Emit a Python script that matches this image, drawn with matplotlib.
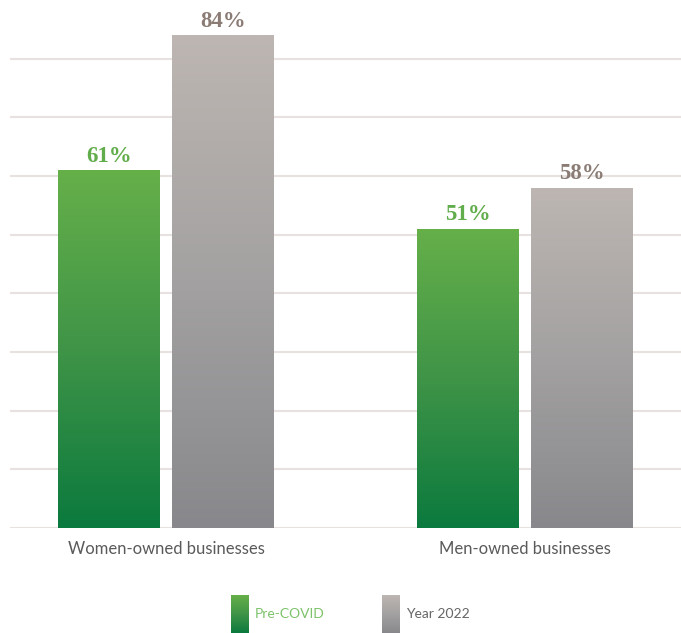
import numpy as np
import matplotlib
matplotlib.use("Agg")
import matplotlib.pyplot as plt
from matplotlib.colors import LinearSegmentedColormap

categories = ["Women-owned businesses", "Men-owned businesses"]
series_names = ["Pre-COVID", "Year 2022"]
pre_covid = [61, 51]
year_2022 = [84, 58]
grid_ticks = [0, 10, 20, 30, 40, 50, 60, 70, 80]

green_cmap = LinearSegmentedColormap.from_list("g", ["#0b7a3e", "#3f9447", "#66b04a"])
gray_cmap = LinearSegmentedColormap.from_list("k", ["#88888c", "#a3a1a1", "#bdb6b2"])

fig = plt.figure(figsize=(6.81, 6.33), dpi=100)
ax = fig.add_axes([10 / 681, 105 / 633, 671 / 681, 528 / 633])

x = np.arange(len(categories))
w = 0.284
off = 0.159
b1 = ax.bar(x - off, pre_covid, w, facecolor="none", edgecolor="none", zorder=2)
b2 = ax.bar(x + off, year_2022, w, facecolor="none", edgecolor="none", zorder=2)

grad = np.linspace(0, 1, 256).reshape(-1, 1)
for bars, cmap in ((b1, green_cmap), (b2, gray_cmap)):
    for r in bars:
        x0, y0 = r.get_x(), r.get_y()
        ww, hh = r.get_width(), r.get_height()
        im = ax.imshow(grad, cmap=cmap, origin="lower", aspect="auto",
                       extent=(x0, x0 + ww, y0, y0 + hh), zorder=2,
                       interpolation="bilinear")
        im.set_clip_path(r)

lab_font = dict(family="Liberation Serif", weight="bold", size=16.5)
for bars, vals, col in ((b1, pre_covid, "#62ad4b"), (b2, year_2022, "#8a7c75")):
    for r, v in zip(bars, vals):
        ax.text(r.get_x() + r.get_width() / 2, v + 0.6, f"{v}%", ha="center",
                va="bottom", color=col, **lab_font)

ax.set_xlim(-0.435, 1.435)
ax.set_ylim(0, 90)
ax.set_yticks(grid_ticks)
ax.yaxis.grid(True, color="#e7e2df", linewidth=1.5, zorder=0)
ax.set_axisbelow(True)
ax.tick_params(axis="y", left=False, labelleft=False)
ax.set_xticks(x)
ax.set_xticklabels(categories, family="Lato", size=12, color="#5a5a5a")
ax.tick_params(axis="x", length=0, pad=9)
for s in ax.spines.values():
    s.set_visible(False)

# legend
leg = [(231, series_names[0], green_cmap, "#7cc26a"), (382, series_names[1], gray_cmap, "#666666")]
for px, name, cmap, tcol in leg:
    lax = fig.add_axes([px / 681, 0, 18 / 681, 38 / 633])
    lax.imshow(grad, cmap=cmap, origin="lower", aspect="auto", extent=(0, 1, 0, 1))
    lax.set_axis_off()
    fig.text((px + 24) / 681, (633 - 614) / 633, name, family="Lato", size=10,
             color=tcol, va="center", ha="left")

fig.savefig("out.png", dpi=100)
